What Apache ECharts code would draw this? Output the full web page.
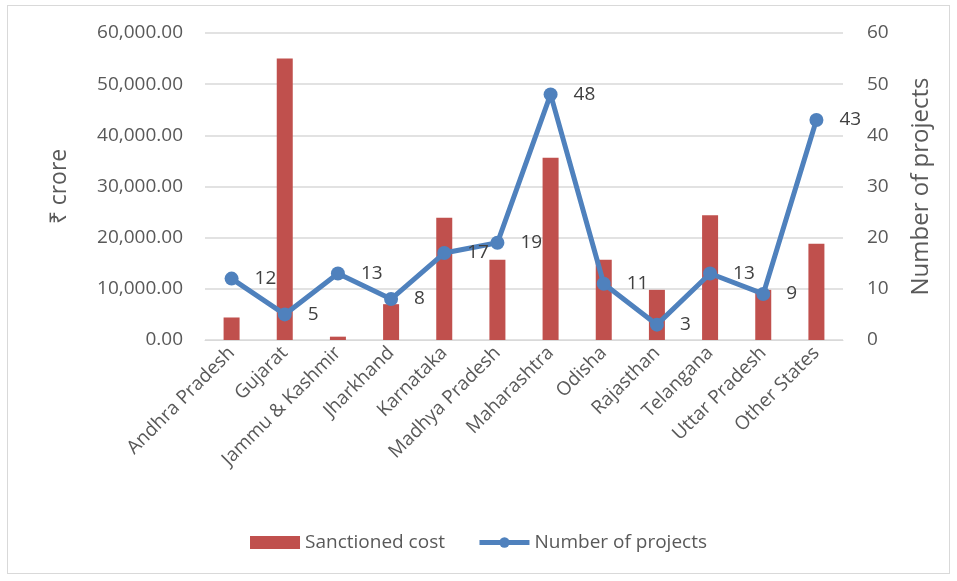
<!DOCTYPE html>
<html>
<head>
<meta charset="utf-8">
<script src="https://cdn.jsdelivr.net/npm/echarts@6/dist/echarts.min.js"></script>
<style>
  html,body{margin:0;padding:0;background:#fff;}
  #main{position:absolute;left:0;top:0;width:957px;height:581px;}
  #frame{position:absolute;left:7px;top:5px;width:943px;height:569px;border:1px solid #d9d9d9;box-sizing:border-box;}
</style>
</head>
<body>
<div id="frame"></div>
<div id="main"></div>
<script>
// 各邦数据
var states = ['Andhra Pradesh','Gujarat','Jammu & Kashmir','Jharkhand','Karnataka','Madhya Pradesh',
  'Maharashtra','Odisha','Rajasthan','Telangana','Uttar Pradesh','Other States'];
var sanctionedCost = [4400,55000,650,7000,23900,15700,35600,15700,9800,24400,9800,18800];
var numProjects = [12,5,13,8,17,19,48,11,3,13,9,43];
var leftTicks = [0,60000,10000];
var rightTicks = [0,60,10];

var font = 'Open Sans';
var grey = '#595959';
var myChart = echarts.init(document.getElementById('main'));
var option = {
  animation:false,
  backgroundColor:'transparent',
  textStyle:{fontFamily:font},
  grid:{left:205,right:114,top:33,bottom:241},
  legend:{
    bottom:24,left:'center',itemGap:32,itemWidth:50,itemHeight:13,
    textStyle:{color:grey,fontSize:19,fontFamily:font},
    data:[
      {name:'Sanctioned cost',icon:'rect'},
      {name:'Number of projects',lineStyle:{width:5,color:'#4F81BD'},itemStyle:{color:'#4F81BD'}}
    ]
  },
  xAxis:{
    type:'category',data:states,
    axisLine:{lineStyle:{color:'#d9d9d9',width:1}},
    axisTick:{show:false},
    axisLabel:{rotate:45,color:grey,fontSize:19,fontFamily:font,margin:10,interval:0}
  },
  yAxis:[{
    type:'value',min:leftTicks[0],max:leftTicks[1],interval:leftTicks[2],
    name:'₹ crore',nameLocation:'middle',nameGap:134,nameRotate:90,
    nameTextStyle:{color:grey,fontSize:23,fontFamily:font},
    axisLine:{show:false},axisTick:{show:false},
    axisLabel:{color:grey,fontSize:19,margin:22,formatter:function(v){
      return v.toLocaleString('en-US',{minimumFractionDigits:2,maximumFractionDigits:2});}},
    splitLine:{lineStyle:{color:'#d9d9d9',width:1.5}}
  },{
    type:'value',min:rightTicks[0],max:rightTicks[1],interval:rightTicks[2],
    name:'Number of projects',nameLocation:'middle',nameGap:66,nameRotate:90,
    nameTextStyle:{color:grey,fontSize:24,fontFamily:font},
    axisLine:{show:false},axisTick:{show:false},
    axisLabel:{color:grey,fontSize:19,margin:24},
    splitLine:{show:false}
  }],
  series:[{
    name:'Sanctioned cost',type:'bar',data:sanctionedCost,barWidth:16,
    itemStyle:{color:'#C0504D'}
  },{
    name:'Number of projects',type:'line',yAxisIndex:1,data:numProjects,
    symbol:'circle',symbolSize:14,
    lineStyle:{color:'#4F81BD',width:5},
    itemStyle:{color:'#4F81BD'},
    label:{show:true,position:'right',distance:16,color:'#404040',fontSize:19,fontFamily:font}
  }]
};
myChart.setOption(option);
</script>
</body>
</html>
